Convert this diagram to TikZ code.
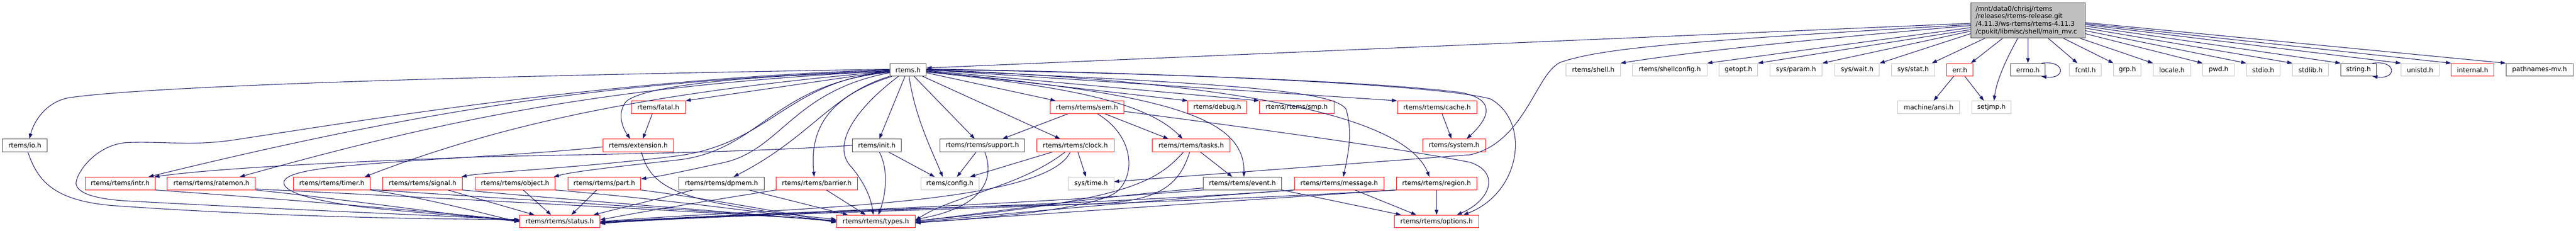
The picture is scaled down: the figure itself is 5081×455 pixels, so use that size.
\documentclass[tikz,border=0pt]{standalone}
\usepackage{fontspec}
\setmainfont{DejaVu Sans}
\usetikzlibrary{arrows.meta}
\definecolor{edgec}{RGB}{25,25,112}
\definecolor{nred}{RGB}{255,0,0}
\definecolor{ngray}{RGB}{191,191,191}
\definecolor{nblack}{RGB}{64,64,64}
\definecolor{rootfill}{RGB}{191,191,191}
\tikzset{
  hbox/.style={draw, line width=1pt, minimum height=25pt, inner sep=0pt, text=black},
  rd/.style={hbox, draw=nred},
  gy/.style={hbox, draw=ngray},
  bk/.style={hbox, draw=nblack},
  edg/.style={draw=edgec, line width=1.1pt, -{Triangle[length=10pt,width=7pt]}},
}
\begin{document}
\begin{tikzpicture}[x=1pt,y=-1pt,font=\fontsize{12.8}{15}\selectfont]
\fill[white] (0,0) rectangle (5081,455);
\useasboundingbox (0,0) rectangle (5081,455);

% root
\node[draw=nblack, line width=1pt, fill=rootfill, text width=206pt, align=left, inner xsep=10pt, inner ysep=3pt, minimum height=69pt] (root) at (4000,40.5)
 {/mnt/data0/chrisj/rtems\\/releases/rtems-release.git\\/4.11.3/ws-rtems/rtems-4.11.3\\/cpukit/libmisc/shell/main\_mv.c};

% row 1
\node[bk,minimum width=72pt] (rtemsh) at (1791,137.5) {rtems.h};
\node[gy,minimum width=107pt] (shell) at (3142.5,137.5) {rtems/shell.h};
\node[gy,minimum width=147pt] (shellcfg) at (3293.5,137.5) {rtems/shellconfig.h};
\node[gy,minimum width=76pt] (getopt) at (3429,137.5) {getopt.h};
\node[gy,minimum width=103pt] (param) at (3542.5,137.5) {sys/param.h};
\node[gy,minimum width=88pt] (wait) at (3663,137.5) {sys/wait.h};
\node[gy,minimum width=85pt] (stat) at (3773.5,137.5) {sys/stat.h};
\node[rd,minimum width=51pt] (err) at (3865.5,137.5) {err.h};
\node[bk,minimum width=68pt] (errno) at (4000,137.5) {errno.h};
\node[gy,minimum width=63pt] (fcntl) at (4113.5,137.5) {fcntl.h};
\node[gy,minimum width=54pt] (grp) at (4196,137.5) {grp.h};
\node[gy,minimum width=74pt] (locale) at (4284,137.5) {locale.h};
\node[gy,minimum width=62pt] (pwd) at (4376,137.5) {pwd.h};
\node[gy,minimum width=66pt] (stdio) at (4464,137.5) {stdio.h};
\node[gy,minimum width=71pt] (stdlib) at (4557.5,137.5) {stdlib.h};
\node[bk,minimum width=70pt] (string) at (4652,137.5) {string.h};
\node[gy,minimum width=75pt] (unistd) at (4773.5,137.5) {unistd.h};
\node[rd,minimum width=84pt] (internal) at (4877,137.5) {internal.h};
\node[bk,minimum width=132pt] (pathnames) at (5009,137.5) {pathnames-mv.h};

% row 2
\node[rd,minimum width=107pt] (fatal) at (1298.5,211.5) {rtems/fatal.h};
\node[rd,minimum width=146pt] (sem) at (2144,211.5) {rtems/rtems/sem.h};
\node[rd,minimum width=116pt] (debug) at (2401,211.5) {rtems/debug.h};
\node[rd,minimum width=147pt] (smp) at (2557.5,211.5) {rtems/rtems/smp.h};
\node[rd,minimum width=157pt] (cache) at (2834.5,211.5) {rtems/rtems/cache.h};
\node[gy,minimum width=122pt] (ansi) at (3804,211.5) {machine/ansi.h};
\node[gy,minimum width=78pt] (setjmp) at (3928,211.5) {setjmp.h};

% row 3
\node[bk,minimum width=88pt] (io) at (49,286.5) {rtems/io.h};
\node[rd,minimum width=140pt] (extension) at (1259,286.5) {rtems/extension.h};
\node[bk,minimum width=97pt] (init) at (1729.5,286.5) {rtems/init.h};
\node[bk,minimum width=167pt] (support) at (1937.5,286.5) {rtems/rtems/support.h};
\node[rd,minimum width=152pt] (clock) at (2121,286.5) {rtems/rtems/clock.h};
\node[rd,minimum width=153pt] (tasks) at (2349.5,286.5) {rtems/rtems/tasks.h};
\node[rd,minimum width=124pt] (system) at (2868,286.5) {rtems/system.h};

% row 4
\node[rd,minimum width=138pt] (intr) at (237,361.5) {rtems/rtems/intr.h};
\node[rd,minimum width=174pt] (ratemon) at (417,361.5) {rtems/rtems/ratemon.h};
\node[rd,minimum width=151pt] (timer) at (654.5,361.5) {rtems/rtems/timer.h};
\node[rd,minimum width=157pt] (signal) at (833.5,361.5) {rtems/rtems/signal.h};
\node[rd,minimum width=158pt] (object) at (1016,361.5) {rtems/rtems/object.h};
\node[rd,minimum width=144pt] (part) at (1192,361.5) {rtems/rtems/part.h};
\node[bk,minimum width=168pt] (dpmem) at (1423,361.5) {rtems/rtems/dpmem.h};
\node[rd,minimum width=160pt] (barrier) at (1611,361.5) {rtems/rtems/barrier.h};
\node[gy,minimum width=115pt] (config) at (1873.5,361.5) {rtems/config.h};
\node[gy,minimum width=90pt] (systime) at (2152,361.5) {sys/time.h};
\node[bk,minimum width=155pt] (event) at (2450.5,361.5) {rtems/rtems/event.h};
\node[rd,minimum width=177pt] (message) at (2641.5,361.5) {rtems/rtems/message.h};
\node[rd,minimum width=159pt] (region) at (2833.5,361.5) {rtems/rtems/region.h};

% row 5
\node[rd,minimum width=158pt] (status) at (1104,436.5) {rtems/rtems/status.h};
\node[rd,minimum width=155pt] (types) at (1727.5,436.5) {rtems/rtems/types.h};
\node[rd,minimum width=167pt] (options) at (2833.5,436.5) {rtems/rtems/options.h};

% ---- edges from root
\draw[edg] ([yshift=-5.5pt]root.west) -- ([yshift=3.5pt]rtemsh.east);
\draw[edg] ([yshift=-8pt]root.west) .. controls (3300,82) and (3160,96) .. (3080,122)
  .. controls (3030,140) and (3010,280) .. (2900,305) -- ([yshift=3.5pt]systime.east);
\draw[edg] ([yshift=-10pt]root.west) .. controls (3600,75) and (3350,100) .. (shell.north east);
\draw[edg] ([yshift=-14pt]root.west) -- (shellcfg.north east);
\draw[edg] ([yshift=-18pt]root.west) -- (getopt.north east);
\draw[edg] ([yshift=-21pt]root.west) -- (param.north east);
\draw[edg] ([yshift=-26pt]root.west) -- (wait.north east);
\draw[edg] ([xshift=-85pt]root.south) -- ([xshift=-6pt]stat.north east);
\draw[edg] ([xshift=-50pt]root.south) -- ([xshift=-4pt]err.north east);
\draw[edg] ([xshift=-20pt]root.south) .. controls (3955,120) and (3938,160) .. ([xshift=5pt]setjmp.north);
\draw[edg] (root.south) -- (errno.north);
\draw[edg] ([xshift=-8pt]errno.north east) .. controls (4075,118) and (4075,157) .. ([xshift=-8pt]errno.south east);
\draw[edg] ([xshift=40pt]root.south) -- ([xshift=-16pt]fcntl.north);
\draw[edg] ([xshift=70pt]root.south) -- (grp.north west);
\draw[edg] ([xshift=103pt]root.south) -- (locale.north west);
\draw[edg] ([yshift=-26pt]root.east) -- (pwd.north west);
\draw[edg] ([yshift=-20pt]root.east) -- (stdio.north west);
\draw[edg] ([yshift=-15pt]root.east) -- (stdlib.north west);
\draw[edg] ([yshift=-11pt]root.east) -- (string.north west);
\draw[edg] ([xshift=-8pt]string.north east) .. controls (4728,118) and (4728,157) .. ([xshift=-8pt]string.south east);
\draw[edg] ([yshift=-8pt]root.east) -- (unistd.north west);
\draw[edg] ([yshift=-6pt]root.east) -- (internal.north west);
\draw[edg] ([yshift=-4pt]root.east) -- (pathnames.north west);
\draw[edg] ([xshift=-12pt]err.south) -- ([xshift=10pt]ansi.north);
\draw[edg] ([xshift=10pt]err.south) -- ([xshift=-15pt]setjmp.north);

% ---- edges from rtems.h (left side)
\draw[edg] ([yshift=1pt]rtemsh.west) .. controls (900,150) and (300,170) .. (140,192)
  .. controls (95,198) and (68,235) .. ([xshift=9pt]io.north);
\draw[edg] ([yshift=-1pt]rtemsh.west) .. controls (1250,160) and (900,200) .. ([xshift=56pt]intr.north);
\draw[edg] ([yshift=-2pt]rtemsh.west) .. controls (1200,170) and (900,230) .. ([xshift=56pt]ratemon.north);
\draw[edg] ([yshift=-3pt]rtemsh.west) .. controls (1300,180) and (1000,240) .. ([xshift=65pt]timer.north);
\draw[edg] (rtemsh.west) .. controls (1200,155) and (700,240) .. (460,276)
  .. controls (380,288) and (320,278) .. (250,281)
  .. controls (190,285) and (150,340) .. (150,362)
  .. controls (152,380) and (185,392) .. (250,396)
  .. controls (600,415) and (900,426) .. ([yshift=3pt]status.west);
\draw[edg] ([yshift=-4pt]rtemsh.west) .. controls (1550,160) and (1520,285) .. (1330,308)
  .. controls (1150,330) and (950,340) .. ([xshift=-2pt]signal.north east);
\draw[edg] ([yshift=-5pt]rtemsh.west) .. controls (1520,165) and (1500,300) .. (1330,316)
  .. controls (1220,328) and (1130,338) .. ([xshift=-3pt]object.north east);
\draw[edg] ([yshift=-6pt]rtemsh.west) .. controls (1560,180) and (1540,300) .. (1420,322)
  .. controls (1360,335) and (1300,348) .. ([yshift=-4pt]part.north east);
\draw[edg] (rtemsh.south west) .. controls (1640,185) and (1600,270) .. ([xshift=24pt]dpmem.north);
\draw[edg] ([xshift=5pt]rtemsh.south west) .. controls (1650,185) and (1595,240) .. ([xshift=-5pt]barrier.north);
\draw[edg] ([yshift=-2.5pt]rtemsh.west) -- (fatal.north east);
\draw[edg] ([yshift=-3.5pt]rtemsh.west) .. controls (1450,150) and (1270,170) .. (1235,200)
  .. controls (1215,225) and (1230,255) .. ([xshift=-16pt]extension.north);
\draw[edg] ([xshift=-12pt]fatal.south) -- ([xshift=9pt]extension.north);

% ---- edges from rtems.h (bottom)
\draw[edg] ([xshift=-6pt]rtemsh.south) -- ([xshift=5pt]init.north);
\draw[edg] ([xshift=-19pt]rtemsh.south) .. controls (1680,220) and (1640,290) .. (1680,330)
  .. controls (1705,360) and (1718,390) .. ([xshift=-5pt]types.north);
\draw[edg] ([xshift=2pt]rtemsh.south) .. controls (1805,230) and (1835,290) .. ([xshift=-14pt]config.north);
\draw[edg] ([xshift=12pt]rtemsh.south) -- ([xshift=-15pt]support.north);
\draw[edg] ([xshift=29pt]rtemsh.south) -- ([xshift=-30pt]clock.north);

% ---- edges from rtems.h (right side)
\draw[edg] ([yshift=-6pt]rtemsh.east) -- ([xshift=-62pt]sem.north);
\draw[edg] ([yshift=-4.5pt]rtemsh.east) .. controls (2100,170) and (2260,200) .. ([xshift=-17pt]tasks.north);
\draw[edg] ([yshift=-3.5pt]rtemsh.east) .. controls (2300,185) and (2455,230) .. ([xshift=3pt]event.north);
\draw[edg] ([yshift=-2.5pt]rtemsh.east) -- (debug.north west);
\draw[edg] ([yshift=-1.5pt]rtemsh.east) -- (smp.north west);
\draw[edg] ([yshift=-0.5pt]rtemsh.east) .. controls (2450,165) and (2630,180) .. (2655,215)
  .. controls (2668,260) and (2660,300) .. ([xshift=8pt]message.north);
\draw[edg] (rtemsh.east) -- (cache.north west);
\draw[edg] ([yshift=0.5pt]rtemsh.east) .. controls (2550,165) and (2780,250) .. ([xshift=-14pt]region.north);
\draw[edg] ([yshift=1pt]rtemsh.east) .. controls (2300,145) and (2700,160) .. (2880,182)
  .. controls (2950,195) and (2940,230) .. ([xshift=25pt]system.north);
\draw[edg] ([yshift=1.5pt]rtemsh.east) .. controls (2400,145) and (2850,170) .. (2940,195)
  .. controls (3020,240) and (3000,380) .. ([xshift=53pt]options.north);

% ---- secondary edges
\draw[edg] ([xshift=-38pt]sem.south) -- ([xshift=40pt]support.north);
\draw[edg] ([xshift=36pt]sem.south) -- ([xshift=-45pt]tasks.north);
\draw[edg] ([xshift=21pt]sem.south) .. controls (2240,270) and (2240,350) .. (2200,380)
  .. controls (2150,412) and (1950,430) .. ([yshift=-2pt]types.east);
\draw[edg] ([yshift=-8pt]sem.east) .. controls (2450,250) and (2750,290) .. (2900,320)
  .. controls (2960,340) and (2940,395) .. ([xshift=40pt]options.north);
\draw[edg] ([xshift=18pt]tasks.south) -- ([xshift=-20pt]event.north);
\draw[edg] ([xshift=-15pt]tasks.south) .. controls (2280,360) and (2220,395) .. ([yshift=1pt]types.east);
\draw[edg] ([xshift=-3pt]tasks.south) .. controls (2325,370) and (2280,398) .. (2150,402)
  .. controls (1700,412) and (1400,425) .. ([yshift=-1pt]status.east);
\draw[edg] ([xshift=-45pt]clock.south) -- ([xshift=40pt]config.north);
\draw[edg] ([xshift=5pt]clock.south) -- ([xshift=-10pt]systime.north);
\draw[edg] ([xshift=-20pt]clock.south) .. controls (2010,370) and (1880,385) .. ([yshift=2pt]types.east);
\draw[edg] ([xshift=-10pt]clock.south) .. controls (2060,410) and (1500,410) .. ([yshift=-0.5pt]status.east);
\draw[edg] ([xshift=-12pt]support.south) -- ([xshift=14pt]config.north);
\draw[edg] ([xshift=5pt]support.south) .. controls (1965,360) and (1930,410) .. ([yshift=4pt]types.east);
\draw[edg] ([xshift=23pt]init.south) -- ([xshift=-30pt]config.north);
\draw[edg] ([xshift=5pt]init.south) .. controls (1755,340) and (1745,390) .. ([xshift=5pt]types.north);
\draw[edg] (init.west) .. controls (1400,305) and (1000,305) .. (880,312)
  .. controls (600,322) and (400,335) .. ([xshift=-2pt]intr.north east);
\draw[edg] ([yshift=-3pt]extension.west) .. controls (1050,305) and (800,315) .. (673,328)
  .. controls (600,335) and (560,345) .. (560,360)
  .. controls (560,380) and (620,395) .. (707,407)
  .. controls (800,418) and (950,428) .. ([yshift=1pt]status.west);
\draw[edg] ([xshift=6pt]extension.south) .. controls (1285,370) and (1330,400) .. ([yshift=4pt]types.west);
\draw[edg] ([xshift=6pt]io.south) .. controls (75,360) and (110,395) .. (220,405)
  .. controls (500,425) and (800,432) .. ([yshift=4pt]status.west);
\draw[edg] (intr.south east) .. controls (600,395) and (900,422) .. ([yshift=2pt]status.west);
\draw[edg] (ratemon.south east) .. controls (700,395) and (900,425) .. (status.west);
\draw[edg] ([yshift=2pt]ratemon.south east) .. controls (900,392) and (1400,418) .. ([yshift=2pt]types.west);
\draw[edg] (timer.south east) .. controls (850,392) and (950,420) .. ([yshift=-1pt]status.west);
\draw[edg] ([yshift=1pt]timer.south east) .. controls (1000,392) and (1400,415) .. ([yshift=1pt]types.west);
\draw[edg] ([xshift=50pt]signal.south) -- ([xshift=-50pt]status.north);
\draw[edg] (signal.south east) .. controls (1100,392) and (1400,414) .. (types.west);
\draw[edg] ([xshift=16pt]object.south) -- ([xshift=-17pt]status.north);
\draw[edg] (object.south east) .. controls (1300,392) and (1500,418) .. ([yshift=-1pt]types.west);
\draw[edg] ([xshift=-15pt]part.south) -- ([xshift=23pt]status.north);
\draw[edg] (part.south east) .. controls (1400,392) and (1550,420) .. ([yshift=-2pt]types.west);
\draw[edg] ([xshift=-56pt]dpmem.south) -- ([xshift=-13pt]status.north east);
\draw[edg] ([xshift=54pt]dpmem.south) -- ([xshift=-55pt]types.north);
\draw[edg] (barrier.south west) .. controls (1400,395) and (1250,420) .. ([yshift=3pt]status.east);
\draw[edg] ([xshift=19pt]barrier.south) -- ([xshift=-20pt]types.north);
\draw[edg] ([yshift=4pt]event.south west) .. controls (2100,395) and (1950,420) .. ([yshift=1pt]types.east);
\draw[edg] (event.south west) .. controls (2000,405) and (1500,420) .. ([yshift=-2pt]status.east);
\draw[edg] (event.south east) -- ([xshift=-70pt]options.north);
\draw[edg] (message.south west) .. controls (2200,400) and (1950,425) .. ([yshift=-1pt]types.east);
\draw[edg] (message.south west) .. controls (2100,408) and (1500,418) .. ([yshift=-3pt]status.east);
\draw[edg] ([xshift=31pt]message.south) -- ([xshift=-40pt]options.north);
\draw[edg] (region.south west) .. controls (2300,405) and (2000,425) .. ([yshift=-3pt]types.east);
\draw[edg] (region.south west) .. controls (2200,408) and (1500,418) .. ([yshift=-4pt]status.east);
\draw[edg] (region.south) -- (options.north);
\draw[edg] ([xshift=10pt]cache.south) -- ([xshift=-5pt]system.north);
\end{tikzpicture}
\end{document}
